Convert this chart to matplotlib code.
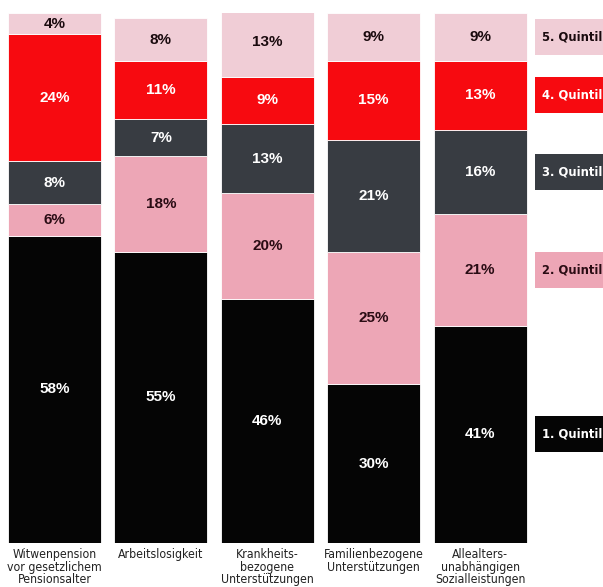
import matplotlib.pyplot as plt
from matplotlib.patches import Rectangle
from matplotlib import font_manager

# Kategorien der Leistungen
categories = [
    "Witwenpension\nvor gesetzlichem\nPensionsalter",
    "Arbeitslosigkeit",
    "Krankheits-\nbezogene\nUnterstützungen",
    "Familienbezogene\nUnterstützungen",
    "Allealters-\nunabhängigen\nSozialleistungen",
]

# Anteile je Einkommensquintil (in %)
q1 = [58, 55, 46, 30, 41]
q2 = [6, 18, 20, 25, 21]
q3 = [8, 7, 13, 21, 16]
q4 = [24, 11, 9, 15, 13]
q5 = [4, 8, 13, 9, 9]

quintil_labels = ["1. Quintil", "2. Quintil", "3. Quintil", "4. Quintil", "5. Quintil"]
colors = ["#050505", "#eda6b6", "#383c42", "#f70a10", "#f0cdd6"]
text_colors = ["white", "#2a0c14", "white", "white", "#1a0a0e"]

# schmale Schrift, falls vorhanden
condensed = [f for f in font_manager.fontManager.ttflist
             if f.stretch in ("condensed", "semi-condensed", "extra-condensed")
             or "Narrow" in f.name or "Condensed" in f.name]
narrow = condensed[0].name if condensed else "Liberation Sans"

fig = plt.figure(figsize=(6.03, 5.87), dpi=100)
ax = fig.add_axes([0, 44 / 587, 1, 530 / 587])

centers = 54.5
step = 106.4
ax.set_xlim(-centers / step, (603 - centers) / step)
ax.set_ylim(0, 100)
ax.axis("off")

x = list(range(len(categories)))
width = 93 / step
series = [q1, q2, q3, q4, q5]
bottom = [0] * len(categories)
for vals, col, tcol in zip(series, colors, text_colors):
    ax.bar(x, vals, width, bottom=bottom, color=col, edgecolor="white", linewidth=0.6)
    for xi, b, v in zip(x, bottom, vals):
        ax.text(xi, b + v / 2, f"{v}%", ha="center", va="center",
                color=tcol, fontsize=11, fontweight="bold", family="Liberation Sans")
    bottom = [b + v for b, v in zip(bottom, vals)]

# Legende: Kästchen auf Höhe der Segmente des letzten Balkens
box_h = 36 / 530 * 100
box_x0 = (535 - centers) / step
box_w = (603 - 535) / step
seg_bottom = 0
for vals, col, tcol, lab in zip(series, colors, text_colors, quintil_labels):
    v = vals[-1]
    yc = min(seg_bottom + v / 2, 100 - box_h / 2)
    seg_bottom += v
    ax.add_patch(Rectangle((box_x0, yc - box_h / 2), box_w, box_h,
                           facecolor=col, edgecolor="none", clip_on=False))
    ax.text(box_x0 + 7 / step, yc, lab, ha="left", va="center", color=tcol,
            fontsize=9.3, fontweight="bold", family=narrow, fontstretch="condensed")

# Beschriftung unter den Balken
for xi, cat in zip(x, categories):
    ax.text(xi, -1.0, cat, ha="center", va="top", fontsize=8.8,
            color="#222222", family=narrow, fontstretch="condensed", linespacing=0.95)

fig.savefig("out.png", dpi=100)
